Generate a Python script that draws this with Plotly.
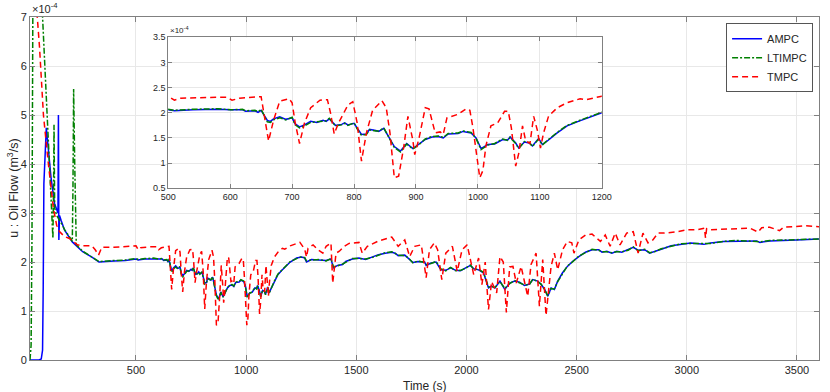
import plotly.graph_objects as go

# oil flow values are in units of 1e-4 m^3/s

t_ampc = [19, 40, 60, 70, 76, 79, 82, 93, 100, 115,
          130, 140, 146, 148, 150, 153, 160, 176, 211, 258,
          300, 332, 400, 452, 500, 510, 540, 580, 601, 620,
          625, 640, 645, 650, 660, 665, 670, 680, 690, 695,
          700, 705, 712, 720, 730, 740, 750, 755, 760, 770,
          780, 785, 790, 800, 805, 812, 820, 825, 835, 840,
          848, 855, 865, 875, 885, 895, 905, 915, 926, 936,
          944, 952, 968, 976, 989, 997, 1005, 1016, 1027, 1040,
          1048, 1052, 1061, 1066, 1075, 1083, 1088, 1098, 1104, 1112,
          1128, 1144, 1160, 1175, 1200, 1229, 1252, 1266, 1274, 1296,
          1333, 1363, 1385, 1396, 1415, 1438, 1452, 1482, 1512, 1542,
          1571, 1601, 1631, 1661, 1676, 1690, 1720, 1735, 1757, 1780,
          1810, 1817, 1839, 1862, 1884, 1906, 1928, 1951, 1973, 1996,
          2018, 2033, 2055, 2077, 2100, 2114, 2129, 2152, 2174, 2196,
          2219, 2241, 2263, 2286, 2301, 2323, 2339, 2354, 2369, 2384,
          2399, 2414, 2436, 2458, 2481, 2510, 2540, 2570, 2600, 2615,
          2637, 2660, 2682, 2705, 2734, 2757, 2779, 2809, 2831, 2854,
          2884, 2929, 2973, 3018, 3078, 3108, 3167, 3227, 3317, 3332,
          3376, 3496, 3600]
u_ampc = [0, 0, 0, 0.02, 0.2, 1.5, 3.6, 4.74, 4.4, 3.7,
          3.2, 3.05, 3.0, 5.0, 2.45, 2.95, 2.85, 2.65, 2.41, 2.21,
          2.1, 2.0, 2.02, 2.03, 2.06, 2.04, 2.06, 2.07, 2.06, 2.06,
          2.03, 2.04, 2.01, 2.05, 1.85, 1.83, 1.88, 1.92, 1.87, 1.88,
          1.90, 1.78, 1.72, 1.76, 1.83, 1.81, 1.85, 1.83, 1.88, 1.75,
          1.77, 1.80, 1.76, 1.79, 1.70, 1.57, 1.58, 1.67, 1.65, 1.63,
          1.69, 1.55, 1.33, 1.24, 1.39, 1.29, 1.38, 1.47, 1.52, 1.53,
          1.50, 1.58, 1.59, 1.63, 1.60, 1.50, 1.29, 1.37, 1.38, 1.47,
          1.46, 1.52, 1.40, 1.30, 1.42, 1.40, 1.34, 1.49, 1.37, 1.44,
          1.60, 1.74, 1.82, 1.89, 2.00, 2.08, 2.10, 2.08, 2.00, 2.05,
          2.04, 2.03, 2.06, 1.88, 1.93, 1.95, 2.01, 2.06, 2.08, 2.05,
          2.10, 2.15, 2.18, 2.20, 2.18, 2.13, 2.14, 2.08, 1.99, 2.01,
          2.00, 1.93, 1.98, 2.00, 1.84, 1.83, 1.88, 1.83, 1.82, 1.88,
          1.93, 1.86, 1.84, 1.78, 1.47, 1.51, 1.47, 1.61, 1.44, 1.57,
          1.61, 1.59, 1.52, 1.55, 1.64, 1.61, 1.54, 1.45, 1.30, 1.47,
          1.44, 1.61, 1.78, 1.91, 2.01, 2.11, 2.20, 2.25, 2.25, 2.20,
          2.22, 2.18, 2.22, 2.20, 2.25, 2.30, 2.24, 2.25, 2.18, 2.22,
          2.26, 2.33, 2.36, 2.39, 2.36, 2.39, 2.42, 2.43, 2.43, 2.40,
          2.43, 2.45, 2.47]

t_ltimpc = [19, 24, 28, 32, 36, 76, 100, 110, 118, 123,
            126, 128, 131, 140, 160, 176, 200, 211, 214, 217,
            222, 229, 240, 258, 300, 332, 400, 452, 500, 510,
            540, 580, 601, 620, 625, 640, 645, 650, 660, 665,
            670, 680, 690, 695, 700, 705, 712, 720, 730, 740,
            750, 755, 760, 770, 780, 785, 790, 800, 805, 812,
            820, 825, 835, 840, 848, 855, 865, 875, 885, 895,
            905, 915, 926, 936, 944, 952, 968, 976, 989, 997,
            1005, 1016, 1027, 1040, 1048, 1052, 1061, 1066, 1075, 1083,
            1088, 1098, 1104, 1112, 1128, 1144, 1160, 1175, 1200, 1229,
            1252, 1266, 1274, 1296, 1333, 1363, 1385, 1396, 1415, 1438,
            1452, 1482, 1512, 1542, 1571, 1601, 1631, 1661, 1676, 1690,
            1720, 1735, 1757, 1780, 1810, 1817, 1839, 1862, 1884, 1906,
            1928, 1951, 1973, 1996, 2018, 2033, 2055, 2077, 2100, 2114,
            2129, 2152, 2174, 2196, 2219, 2241, 2263, 2286, 2301, 2323,
            2339, 2354, 2369, 2384, 2399, 2414, 2436, 2458, 2481, 2510,
            2540, 2570, 2600, 2615, 2637, 2660, 2682, 2705, 2734, 2757,
            2779, 2809, 2831, 2854, 2884, 2929, 2973, 3018, 3078, 3108,
            3167, 3227, 3317, 3332, 3376, 3496, 3600]
u_ltimpc = [0, 0.3, 2.5, 8.0, 12.0, 7.0, 4.6, 3.6, 3.1, 2.48,
            3.5, 4.8, 3.1, 2.95, 2.8, 2.66, 2.5, 2.42, 3.5, 5.53,
            4.0, 2.36, 2.3, 2.22, 2.1, 2.01, 2.03, 2.04, 2.07, 2.05,
            2.07, 2.08, 2.06, 2.07, 2.04, 2.05, 2.02, 2.07, 1.82, 1.81,
            1.86, 1.90, 1.86, 1.89, 1.91, 1.76, 1.70, 1.74, 1.81, 1.82,
            1.84, 1.84, 1.89, 1.74, 1.76, 1.79, 1.75, 1.80, 1.68, 1.55,
            1.57, 1.66, 1.64, 1.64, 1.70, 1.53, 1.31, 1.22, 1.38, 1.28,
            1.37, 1.48, 1.53, 1.54, 1.51, 1.59, 1.60, 1.64, 1.61, 1.49,
            1.27, 1.36, 1.39, 1.48, 1.45, 1.51, 1.39, 1.29, 1.43, 1.41,
            1.33, 1.48, 1.36, 1.45, 1.61, 1.75, 1.83, 1.90, 2.01, 2.07,
            2.11, 2.09, 2.02, 2.04, 2.05, 2.02, 2.07, 1.90, 1.92, 1.96,
            2.00, 2.07, 2.07, 2.06, 2.09, 2.14, 2.19, 2.21, 2.17, 2.14,
            2.13, 2.09, 1.98, 2.02, 1.99, 1.95, 1.97, 2.01, 1.86, 1.82,
            1.89, 1.82, 1.83, 1.87, 1.94, 1.85, 1.85, 1.79, 1.49, 1.50,
            1.48, 1.60, 1.46, 1.56, 1.62, 1.58, 1.53, 1.54, 1.65, 1.60,
            1.55, 1.44, 1.31, 1.46, 1.45, 1.60, 1.77, 1.92, 2.00, 2.12,
            2.19, 2.26, 2.24, 2.21, 2.21, 2.19, 2.21, 2.21, 2.24, 2.31,
            2.23, 2.26, 2.19, 2.21, 2.27, 2.32, 2.37, 2.38, 2.37, 2.38,
            2.42, 2.44, 2.42, 2.41, 2.44, 2.45, 2.47]

t_tmpc = [19, 52, 62, 80, 101, 116, 125, 140, 153, 175,
          198, 234, 260, 300, 315, 330, 345, 400, 450, 500,
          510, 520, 560, 580, 595, 603, 615, 650, 655, 662,
          670, 680, 695, 700, 705, 712, 720, 730, 745, 757,
          762, 768, 775, 790, 798, 805, 812, 820, 830, 845,
          852, 858, 865, 872, 880, 887, 895, 898, 905, 915,
          921, 931, 939, 944, 950, 958, 968, 981, 987, 992,
          1003, 1008, 1013, 1021, 1032, 1043, 1049, 1054, 1061, 1066,
          1072, 1077, 1084, 1090, 1096, 1101, 1106, 1114, 1128, 1144,
          1165, 1175, 1200, 1244, 1266, 1274, 1281, 1304, 1326, 1348,
          1363, 1385, 1393, 1408, 1423, 1445, 1467, 1512, 1527, 1550,
          1601, 1661, 1690, 1720, 1742, 1765, 1795, 1817, 1832, 1854,
          1869, 1888, 1906, 1936, 1958, 1980, 2003, 2033, 2055, 2070,
          2085, 2100, 2114, 2137, 2152, 2167, 2181, 2196, 2211, 2226,
          2248, 2278, 2293, 2316, 2331, 2346, 2361, 2384, 2399, 2414,
          2436, 2458, 2478, 2488, 2510, 2540, 2570, 2608, 2630, 2652,
          2675, 2697, 2727, 2757, 2779, 2801, 2824, 2846, 2869, 2899,
          2958, 3003, 3048, 3080, 3085, 3090, 3108, 3197, 3287, 3324,
          3340, 3376, 3421, 3440, 3466, 3540, 3600]
u_tmpc = [12.0, 7.0, 6.4, 5.0, 4.06, 3.46, 3.1, 2.75, 2.62, 2.52,
          2.48, 2.35, 2.33, 2.33, 2.25, 2.14, 2.30, 2.30, 2.31, 2.33,
          2.25, 2.29, 2.31, 2.31, 2.31, 2.25, 2.29, 2.32, 1.95, 1.44,
          1.85, 2.23, 2.28, 2.20, 1.80, 1.39, 1.80, 2.10, 2.25, 2.26,
          2.00, 1.58, 1.80, 2.15, 2.22, 1.80, 1.04, 1.60, 2.05, 2.24,
          2.10, 1.60, 0.71, 0.74, 1.30, 1.93, 1.45, 1.17, 1.50, 2.10,
          2.08, 1.60, 1.62, 1.57, 1.90, 1.93, 1.97, 2.08, 2.05, 1.70,
          0.71, 0.85, 1.35, 1.74, 1.80, 2.03, 2.03, 1.70, 0.94, 1.20,
          1.74, 1.45, 1.39, 1.93, 1.65, 1.30, 1.60, 1.93, 2.10, 2.20,
          2.28, 2.26, 2.33, 2.40, 2.26, 2.10, 2.28, 2.35, 2.25, 2.18,
          2.32, 2.39, 1.57, 2.18, 2.22, 2.32, 2.38, 2.40, 2.18, 2.32,
          2.43, 2.51, 2.32, 2.45, 2.11, 2.32, 2.35, 1.68, 2.25, 2.39,
          2.25, 1.64, 2.18, 2.32, 1.81, 2.25, 2.35, 1.74, 2.08, 1.54,
          2.00, 1.03, 1.60, 1.37, 2.11, 2.00, 0.97, 1.90, 1.91, 1.57,
          1.91, 1.30, 1.95, 2.18, 1.10, 2.05, 0.91, 1.91, 2.18, 1.84,
          2.25, 2.42, 2.39, 2.18, 2.45, 2.55, 2.57, 2.42, 2.55, 2.32,
          2.59, 2.35, 2.59, 2.62, 2.18, 2.59, 2.39, 2.45, 2.59, 2.59,
          2.62, 2.66, 2.66, 2.69, 2.49, 2.68, 2.66, 2.68, 2.69, 2.61,
          2.70, 2.71, 2.64, 2.71, 2.72, 2.74, 2.72]

FONT = "Liberation Sans, Arial, sans-serif"
TXT = "#262626"
AX = "#808080"
GRID = "#e8e8e8"

series = [
    ("AMPC", t_ampc, u_ampc, dict(color="#0000ff", width=1.5)),
    ("LTIMPC", t_ltimpc, u_ltimpc, dict(color="#008000", width=1.5, dash="6px,2px,2px,2px")),
    ("TMPC", t_tmpc, u_tmpc, dict(color="#ff0000", width=1.5, dash="6px,4px")),
]

fig = go.Figure()
for name, t, u, line in series:
    fig.add_trace(go.Scatter(x=t, y=u, mode="lines", name=name, line=line,
                             xaxis="x", yaxis="y"))
# same data again for the zoomed inset
for name, t, u, line in series:
    fig.add_trace(go.Scatter(x=t, y=u, mode="lines", name=name, line=line,
                             xaxis="x2", yaxis="y2", showlegend=False))

main_axis = dict(showline=True, linecolor=AX, linewidth=1, mirror="ticks",
                 ticks="inside", ticklen=5, tickcolor=AX, gridcolor=GRID,
                 zeroline=False, tickfont=dict(size=11, color=TXT))
inset_axis = dict(showline=True, linecolor=AX, linewidth=1, mirror="ticks",
                  ticks="inside", ticklen=4, tickcolor=AX, gridcolor=GRID,
                  zeroline=False, tickfont=dict(size=9, color=TXT))

fig.update_layout(
    width=830, height=392,
    margin=dict(l=30, r=1, t=17, b=32),
    paper_bgcolor="white", plot_bgcolor="white",
    font=dict(family=FONT, color=TXT),
    xaxis=dict(main_axis, range=[19, 3600], tickvals=[500, 1000, 1500, 2000, 2500, 3000, 3500],
               domain=[0, 1], anchor="y"),
    yaxis=dict(main_axis, range=[0, 7], tickvals=[0, 1, 2, 3, 4, 5, 6, 7],
               domain=[0, 1], anchor="x"),
    xaxis2=dict(inset_axis, range=[500, 1200], tickvals=[500, 600, 700, 800, 900, 1000, 1100, 1200],
                domain=[0.1752, 0.7247], anchor="y2"),
    yaxis2=dict(inset_axis, range=[0.5, 3.5], tickvals=[0.5, 1, 1.5, 2, 2.5, 3, 3.5],
                ticktext=["0.5", "1", "1.5", "2", "2.5", "3", "3.5"],
                domain=[0.5006, 0.9408], anchor="x2"),
    legend=dict(x=0.9925, y=0.982, xanchor="right", yanchor="top",
                bgcolor="white", bordercolor="#555555", borderwidth=1,
                font=dict(size=11, color=TXT), tracegroupgap=0, itemwidth=30),
    showlegend=True,
    annotations=[
        dict(text="×10<sup>-4</sup>", xref="paper", yref="paper", x=0.0, y=1.0,
             xanchor="left", yanchor="bottom", showarrow=False,
             font=dict(size=11, color=TXT)),
        dict(text="×10<sup>-4</sup>", xref="paper", yref="paper", x=0.1755, y=0.9408,
             xanchor="left", yanchor="bottom", showarrow=False,
             font=dict(size=8, color=TXT)),
        dict(text="Time (s)", xref="paper", yref="paper", x=0.5, y=-0.075,
             xanchor="center", yanchor="middle", showarrow=False,
             font=dict(size=12, color=TXT)),
        dict(text="u : Oil Flow (m<sup>3</sup>/s)", xref="paper", yref="paper",
             x=-0.0225, y=0.5, xanchor="center", yanchor="middle", textangle=-90,
             showarrow=False, font=dict(size=12.5, color=TXT)),
    ],
)

# drop the default 8px page margin so the figure fills the window exactly
fig.write_html("out.html", config={"displayModeBar": False},
               post_script="document.body.style.margin='0';document.body.style.overflow='hidden';")
